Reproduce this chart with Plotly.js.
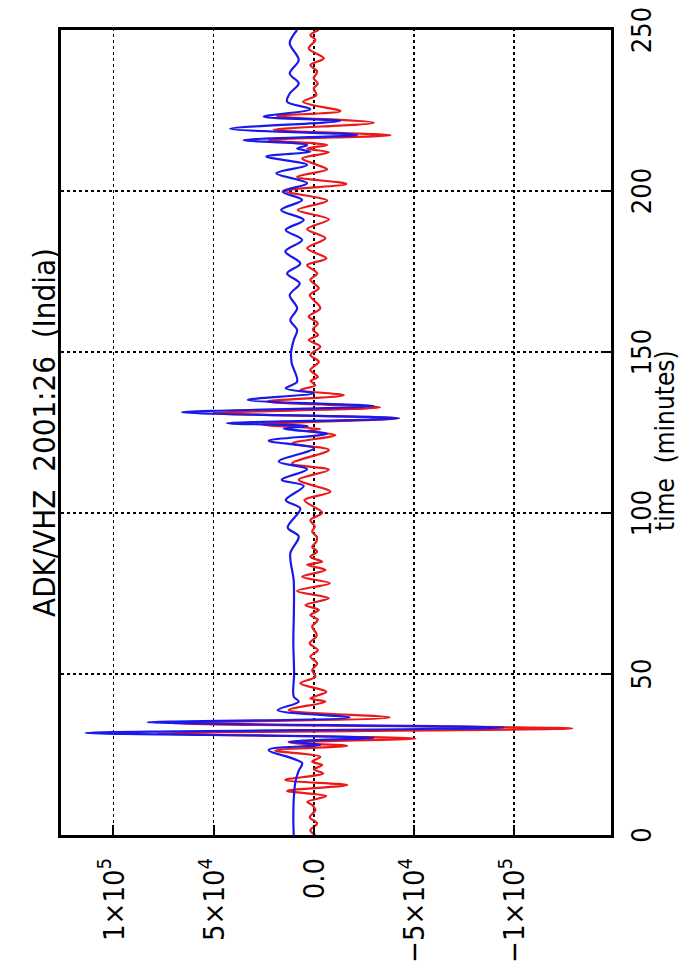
<!DOCTYPE html>
<html>
<head>
<meta charset="utf-8">
<script src="https://cdn.plot.ly/plotly-3.0.1.min.js"></script>
<style>
  html, body { margin:0; padding:0; background:#fff; overflow:hidden; width:684px; height:974px; }
  #wrap { position:absolute; left:0; top:0; width:974px; height:684px;
          transform-origin: 0 0; transform: translate(0px, 974px) rotate(-90deg); }
</style>
</head>
<body>
<div id="wrap"></div>
<script>
// time in minutes, amplitude in counts
const blueTime = [0,6,13,17,20,22.3,26.4,28,29,30.2,31.7,33.4,35,36.5,38.8,41.4,43,50,60,70,79,87.5,92.7,95.5,101.4,104,108.4,110.3,113.6,116,120.1,122.4,124.6,126.2,127,127.9,129.4,131.3,133.2,135.1,137.2,138.7,140.8,146.5,150,153.7,156.8,159.9,163.6,167.7,171.3,174.4,177.5,181.2,184.8,187.9,191,194.1,197.2,199.8,202.4,205.5,208.1,210.7,212.2,213.2,214.3,215.8,217.4,219.3,221.8,223.1,225.4,227.7,230.3,233.4,236.5,240.7,245.9,250];
const blueAmp = [10000,10200,9800,9000,7500,5800,22500,-3300,12500,-30000,114000,-95000,83000,-18000,18000,7500,10000,9800,10200,9900,10000,11700,7500,13000,6700,14000,5000,16000,3300,17500,0,22500,-6700,15000,3000,43300,-42500,65800,-30000,33000,0,14000,8300,11000,11300,10000,8300,11700,8300,12000,7000,13300,6700,14200,5800,14000,5000,16300,5800,15500,3300,18700,3300,23700,1700,8300,3300,35000,-21700,41700,-13300,25000,1700,13300,12000,7500,12000,7500,12000,8300];

const redTime = [0,1.5,3.6,5.5,7.8,9.3,10.3,12.1,13.7,15.5,17.1,19.1,20.4,21.7,22.8,24.3,26.2,27.7,28.7,30,31.5,33.1,34.7,36.5,38.8,41.4,42.4,44.5,47.1,49.2,51.2,53.3,55.4,57.4,59.5,61.6,62.6,64.7,66.8,68.3,69.9,71.4,73.5,75.8,78.2,80.2,82.3,83.9,84.9,86.4,88,89.5,91.1,92.6,94.2,95.8,97.8,100.1,104,106.6,110.3,113.4,115.4,119.6,121.6,124.2,125.5,126.1,127.5,129.4,131,132.8,134.6,136.6,138.2,139.7,141,142.3,144.4,147,149.1,151.7,153.7,155.3,157,158.9,161,163.6,167.7,169.8,172.4,174.4,177,179.1,182.2,185.3,188.2,191.2,194.1,197,200,202.2,204.4,206.7,208.1,210.1,212,213.2,214.3,215.8,217.3,219,221.2,223.3,224.8,227.7,229.8,231.9,233.4,235,237.1,239.1,241.2,244.3,246.9,248.4,250];
const redAmp = [-800,1700,-1700,2000,-800,800,3300,-6300,13300,-16700,14200,-4700,0,-4200,800,-3300,19200,-16700,12500,-50800,78000,-129000,70000,-38000,12500,-5800,1700,-6300,6700,-800,800,-1700,1700,-2000,2000,-1300,-1300,800,-2000,1700,-2500,4200,-7500,8300,-8000,5800,-5800,3300,-4200,1700,-1700,800,-1300,-1500,800,-500,1700,-4200,4700,-8300,7500,-7500,10800,-7500,10800,-10800,3300,-3300,25800,-42500,50000,-33000,23300,-15000,6700,-800,1500,-2000,1700,-2500,1700,-3300,2500,-2200,500,-2000,2500,-3300,2000,-2500,1700,-1700,3300,-6300,3300,-5800,3300,-7500,8000,-6700,14200,-16300,8300,-6700,-1700,5800,-7500,3300,-6700,22500,-38300,20000,-30000,18300,-13300,5300,-1300,0,-2000,0,-1700,1700,-5000,2500,-800,1700,-2500];

const timeTicks = [0,50,100,150,200,250];
const ampTicks = [100000,50000,0,-50000,-100000];
const ampTickText = ['1×10<sup>5</sup>','5×10<sup>4</sup>','0.0','−5×10<sup>4</sup>','−1×10<sup>5</sup>'];

const FONT = '"Liberation Sans Narrow", "DejaVu Sans Condensed", "Liberation Sans", sans-serif';

const traces = [
  {x: redTime, y: redAmp, type:'scatter', mode:'lines',
   line:{color:'rgb(235,25,25)', width:2.2, shape:'spline', smoothing:0.9}, hoverinfo:'skip'},
  {x: blueTime, y: blueAmp, type:'scatter', mode:'lines',
   line:{color:'rgb(25,25,235)', width:2.2, shape:'spline', smoothing:0.9}, hoverinfo:'skip'}
];

const layout = {
  width:974, height:684,
  margin:{l:139, r:30, t:61, b:73},
  paper_bgcolor:'#fff', plot_bgcolor:'#fff',
  showlegend:false,
  font:{family:FONT, color:'#000', size:27},
  title:{text:'ADK/VHZ  2001:26  (India)', font:{family:FONT, size:31, color:'#000'},
         x:0.5, xref:'paper', xanchor:'center', y:1-44/684, yref:'container', yanchor:'middle'},
  xaxis:{range:[0,250], tickvals:timeTicks, ticktext:timeTicks.map(String),
         ticks:'inside', ticklen:10, tickwidth:2, tickcolor:'#000',
         showgrid:true, gridcolor:'#000', gridwidth:1.5, griddash:'dot',
         showline:true, linecolor:'#000', linewidth:3, mirror:true, zeroline:false,
         tickfont:{family:FONT, size:27, color:'#000'}, ticklabelstandoff:5,
         automargin:false},
  yaxis:{range:[-148350,126150], tickvals:ampTicks, ticktext:ampTickText,
         ticks:'inside', ticklen:10, tickwidth:2, tickcolor:'#000',
         showgrid:true, gridcolor:'#000', gridwidth:1.5, griddash:'dot',
         showline:true, linecolor:'#000', linewidth:3, mirror:true, zeroline:false,
         tickfont:{family:FONT, size:29, color:'#000'}, ticklabelstandoff:14,
         automargin:false},
  annotations:[{text:'time  (minutes)', xref:'paper', yref:'paper', x:0.49, y:-0.099,
                xanchor:'center', yanchor:'middle', showarrow:false,
                font:{family:FONT, size:26, color:'#000'}}]
};

Plotly.newPlot('wrap', traces, layout, {staticPlot:true, displayModeBar:false});
</script>
</body>
</html>
